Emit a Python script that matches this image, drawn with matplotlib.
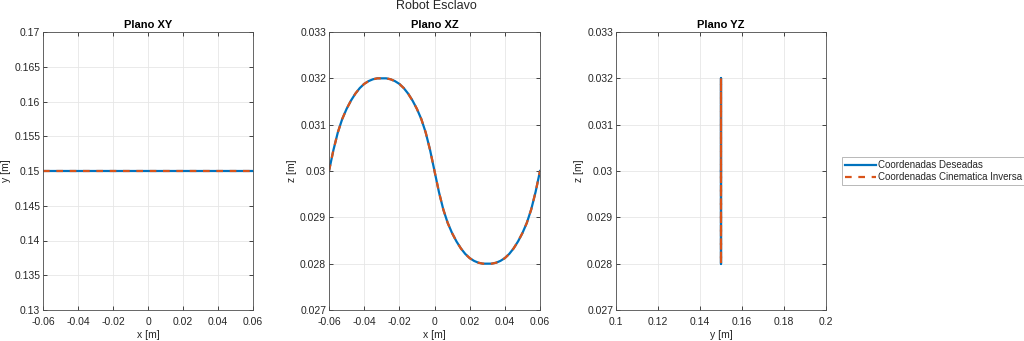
import matplotlib
matplotlib.use("Agg")
import matplotlib.pyplot as plt

plt.rcParams['font.family'] = ['Liberation Sans', 'DejaVu Sans']

# datos (trayectoria del robot esclavo)
x = [-0.06, -0.0575, -0.055, -0.0525, -0.05, -0.0475, -0.045, -0.0425, -0.04,
     -0.0375, -0.035, -0.0325, -0.03, -0.0275, -0.025, -0.0225, -0.02, -0.0175,
     -0.015, -0.0125, -0.01, -0.0075, -0.005, -0.0025, 0.0,
     0.0025, 0.005, 0.0075, 0.01, 0.0125, 0.015, 0.0175, 0.02, 0.0225, 0.025,
     0.0275, 0.03, 0.0325, 0.035, 0.0375, 0.04, 0.0425, 0.045, 0.0475, 0.05,
     0.0525, 0.055, 0.0575, 0.06]
z = [0.0300, 0.03045, 0.03083, 0.03112, 0.03134, 0.03152, 0.03167, 0.03179,
     0.03188, 0.03194, 0.03198, 0.0320, 0.0320, 0.0320, 0.03198, 0.03194,
     0.03188, 0.03179, 0.03167, 0.03152, 0.03134, 0.03112, 0.03083, 0.03045,
     0.0300,
     0.02955, 0.02917, 0.02888, 0.02866, 0.02848, 0.02833, 0.02821, 0.02812,
     0.02806, 0.02802, 0.0280, 0.0280, 0.0280, 0.02802, 0.02806, 0.02812,
     0.02821, 0.02833, 0.02848, 0.02866, 0.02888, 0.02917, 0.02955, 0.0300]
y = [0.15] * len(x)

# cinematica inversa (coincide con la deseada)
x_ci = list(x)
y_ci = list(y)
z_ci = list(z)

azul = '#0072BD'
naranja = '#D95319'
gris = '#262626'

fig = plt.figure(figsize=(10.24, 3.41), dpi=100)
W, H = 1024, 341

def ejes(l, r, t, b):
    return fig.add_axes([l / W, 1 - b / H, (r - l) / W, (b - t) / H])

ax1 = ejes(43, 253, 32, 310)
ax2 = ejes(329, 540, 32, 310)
ax3 = ejes(616, 826, 32, 310)

def estilo(ax, titulo, xl, yl):
    ax.set_title(titulo, fontsize=8, fontweight='bold', color='black', pad=3)
    ax.set_xlabel(xl, fontsize=7.5, color=gris, labelpad=2)
    ax.set_ylabel(yl, fontsize=7.5, color=gris, labelpad=2)
    ax.grid(True, color='#e6e6e6', linewidth=0.6)
    ax.set_axisbelow(True)
    ax.tick_params(direction='in', top=True, right=True, labelsize=7.5,
                   colors=gris, length=3, width=0.6, pad=2)
    ax.tick_params(axis='x', pad=5)
    for s in ax.spines.values():
        s.set_color('#4d4d4d')
        s.set_linewidth(0.6)

# Plano XY
l1, = ax1.plot(x, y, color=azul, linewidth=1.6, label='Coordenadas Deseadas')
l2, = ax1.plot(x_ci, y_ci, color=naranja, linewidth=1.6, linestyle=(0, (3, 3)),
               label='Coordenadas Cinematica Inversa')
ax1.set_xlim(-0.06, 0.06)
ax1.set_ylim(0.13, 0.17)
ax1.set_xticks([-0.06, -0.04, -0.02, 0, 0.02, 0.04, 0.06])
ax1.set_xticklabels(['-0.06', '-0.04', '-0.02', '0', '0.02', '0.04', '0.06'])
ax1.set_yticks([0.13, 0.135, 0.14, 0.145, 0.15, 0.155, 0.16, 0.165, 0.17])
ax1.set_yticklabels(['0.13', '0.135', '0.14', '0.145', '0.15', '0.155', '0.16', '0.165', '0.17'])
estilo(ax1, 'Plano XY', 'x [m]', 'y [m]')

# Plano XZ
ax2.plot(x, z, color=azul, linewidth=1.6)
ax2.plot(x_ci, z_ci, color=naranja, linewidth=1.6, linestyle=(0, (3, 3)))
ax2.set_xlim(-0.06, 0.06)
ax2.set_ylim(0.027, 0.033)
ax2.set_xticks([-0.06, -0.04, -0.02, 0, 0.02, 0.04, 0.06])
ax2.set_xticklabels(['-0.06', '-0.04', '-0.02', '0', '0.02', '0.04', '0.06'])
ax2.set_yticks([0.027, 0.028, 0.029, 0.03, 0.031, 0.032, 0.033])
ax2.set_yticklabels(['0.027', '0.028', '0.029', '0.03', '0.031', '0.032', '0.033'])
estilo(ax2, 'Plano XZ', 'x [m]', 'z [m]')

# Plano YZ
ax3.plot(y, z, color=azul, linewidth=1.6)
ax3.plot(y_ci, z_ci, color=naranja, linewidth=1.6, linestyle=(0, (3, 3)))
ax3.set_xlim(0.1, 0.2)
ax3.set_ylim(0.027, 0.033)
ax3.set_xticks([0.1, 0.12, 0.14, 0.16, 0.18, 0.2])
ax3.set_xticklabels(['0.1', '0.12', '0.14', '0.16', '0.18', '0.2'])
ax3.set_yticks([0.027, 0.028, 0.029, 0.03, 0.031, 0.032, 0.033])
ax3.set_yticklabels(['0.027', '0.028', '0.029', '0.03', '0.031', '0.032', '0.033'])
estilo(ax3, 'Plano YZ', 'y [m]', 'z [m]')

leg = fig.legend(handles=[l1, l2], loc='center left',
                 bbox_to_anchor=(842 / W, 1 - 171 / H), fontsize=7,
                 frameon=True, fancybox=False, borderpad=0.3, labelspacing=0.2,
                 handlelength=3.2, handletextpad=0.2, borderaxespad=0)
leg.get_frame().set_edgecolor('#999999')
leg.get_frame().set_linewidth(0.6)
for t in leg.get_texts():
    t.set_color(gris)

fig.text(436 / W, 1 - 6 / H, 'Robot Esclavo', ha='center', va='center',
         fontsize=9, color=gris)

fig.savefig('out.png', dpi=100)
